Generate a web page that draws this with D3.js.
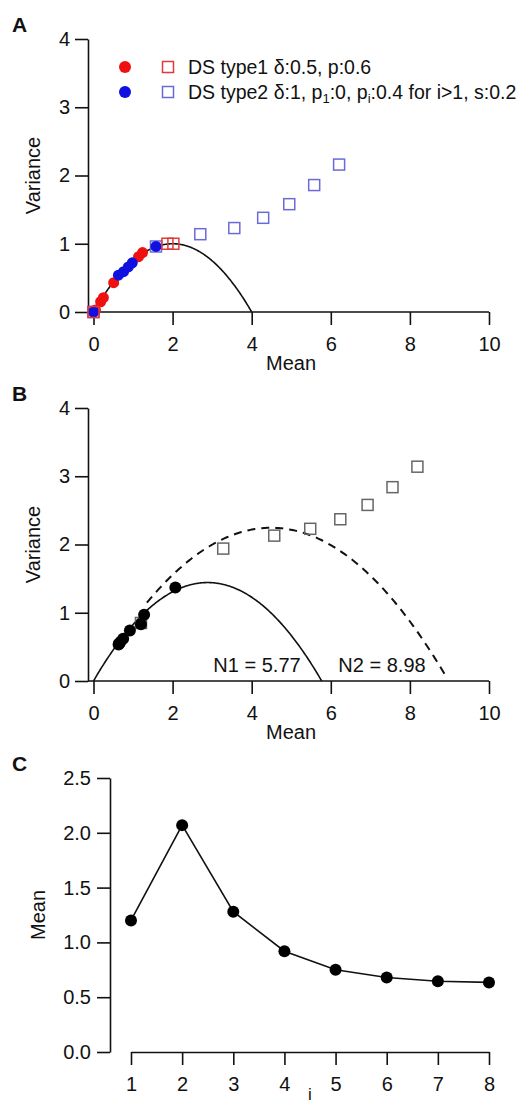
<!DOCTYPE html>
<html>
<head>
<meta charset="utf-8">
<script src="https://cdn.jsdelivr.net/npm/d3@7"></script>
<style>
  html, body { margin: 0; padding: 0; background: #fff; }
  svg { display: block; }
  text { font-family: "Liberation Sans", Arial, sans-serif; fill: #111; }
</style>
</head>
<body>
<svg id="fig" width="522" height="1107"></svg>
<script>
// ---- Panel A: mean vs variance for two DS types ----
const type1CircleMean = [0, 0.05, 0.18, 0.25, 0.51, 1.14, 1.24];
const type1CircleVar  = [0, 0.03, 0.15, 0.21, 0.43, 0.81, 0.87];
const type1SquareMean = [0, 1.87, 2.02];
const type1SquareVar  = [0, 1.00, 1.00];
const type2CircleMean = [0, 0.63, 0.76, 0.88, 0.98, 1.58];
const type2CircleVar  = [0, 0.54, 0.59, 0.66, 0.72, 0.96];
const type2SquareMean = [0, 1.58, 2.70, 3.56, 4.29, 4.95, 5.58, 6.21];
const type2SquareVar  = [0, 0.96, 1.14, 1.23, 1.38, 1.58, 1.86, 2.16];
const boundA = 4;            // parabola var = m(1 - m/N)
const legendLabels = ["DS type1 \u03b4:0.5, p:0.6", "DS type2"];

// ---- Panel B ----
const stepMean     = [1.2, 2.07, 1.28, 0.92, 0.75, 0.68, 0.645, 0.635];
const stepVar      = [0.83, 1.37, 0.97, 0.74, 0.62, 0.57, 0.545, 0.535];
const cumMean      = [1.2, 3.28, 4.57, 5.48, 6.24, 6.93, 7.56, 8.19];
const cumVar       = [0.85, 1.94, 2.13, 2.23, 2.37, 2.58, 2.84, 3.14];
const N1 = 5.77, N2 = 8.98;

// ---- Panel C ----
const stepIndex = [1, 2, 3, 4, 5, 6, 7, 8];

const xTicks = [0, 2, 4, 6, 8, 10];
const yTicksAB = [0, 1, 2, 3, 4];
const yTicksC = [0, 0.5, 1.0, 1.5, 2.0, 2.5];

const svg = d3.select("#fig");
const FS = 20;
const intFmt = d3.format("d");

function styleAxis(g) {
  g.selectAll("path.domain").attr("stroke", "#111").attr("stroke-width", 1.6);
  g.selectAll(".tick line").attr("stroke", "#111").attr("stroke-width", 1.6);
  g.selectAll(".tick text").attr("font-size", FS).attr("fill", "#111")
    .attr("font-family", "Liberation Sans, Arial, sans-serif");
}

function parabola(N, from, to) {
  return d3.range(0, 201).map(k => {
    const m = from + (to - from) * k / 200;
    return [m, Math.max(0, m * (1 - m / N))];
  });
}

function meanVarPanel(top, label) {
  const y0 = top + 273, y4 = top;
  const x = d3.scaleLinear().domain([0, 10]).range([93.5, 489]);
  const y = d3.scaleLinear().domain([0, 4]).range([y0, y4]);
  const g = svg.append("g");
  const ya = g.append("g").attr("transform", "translate(88,0)")
    .call(d3.axisLeft(y).tickValues(yTicksAB).tickFormat(intFmt)
      .tickSize(13).tickSizeOuter(0).tickPadding(5));
  styleAxis(ya);
  const xa = g.append("g").attr("transform", `translate(0,${y0})`)
    .call(d3.axisBottom(x).tickValues(xTicks).tickFormat(intFmt)
      .tickSize(13).tickSizeOuter(0).tickPadding(12));
  xa.select("path.domain").attr("d", `M88,0H${x(10)}`);
  styleAxis(xa);
  g.append("text").attr("x", 291).attr("y", y0 + 58).attr("text-anchor", "middle")
    .attr("font-size", FS).text("Mean");
  g.append("text").attr("transform", `translate(40,${(y0 + y4) / 2}) rotate(-90)`)
    .attr("text-anchor", "middle").attr("font-size", FS).text("Variance");
  g.append("text").attr("x", 12).attr("y", top - 7).attr("font-size", 21)
    .attr("font-weight", "bold").text(label);
  return { g, x, y };
}

const line = (x, y) => d3.line().x(d => x(d[0])).y(d => y(d[1]));

function squares(g, x, y, ms, vs, color, s) {
  g.append("g").selectAll("rect").data(ms.map((m, i) => [m, vs[i]])).join("rect")
    .attr("x", d => x(d[0]) - s / 2).attr("y", d => y(d[1]) - s / 2)
    .attr("width", s).attr("height", s)
    .attr("fill", "none").attr("stroke", color).attr("stroke-width", 1.5);
}
function circles(g, x, y, ms, vs, color, r) {
  g.append("g").selectAll("circle").data(ms.map((m, i) => [m, vs[i]])).join("circle")
    .attr("cx", d => x(d[0])).attr("cy", d => y(d[1])).attr("r", r).attr("fill", color);
}

// ===== Panel A =====
{
  const { g, x, y } = meanVarPanel(39, "A");
  g.append("path").datum(parabola(boundA, 0, boundA)).attr("d", line(x, y))
    .attr("fill", "none").attr("stroke", "#111").attr("stroke-width", 1.6);
  const red = "#f01010", blue = "#1010e0", redSq = "#e03a3a", blueSq = "#6a6ad8";
  squares(g, x, y, type2SquareMean, type2SquareVar, blueSq, 11);
  circles(g, x, y, type1CircleMean, type1CircleVar, red, 5.5);
  circles(g, x, y, type2CircleMean, type2CircleVar, blue, 5.5);
  squares(g, x, y, type1SquareMean, type1SquareVar, redSq, 11);

  // legend
  const lg = g.append("g");
  const LF = 19.5;
  const rows = [{ c: red, s: redSq, y: 67 }, { c: blue, s: blueSq, y: 92 }];
  rows.forEach(r => {
    lg.append("circle").attr("cx", 125).attr("cy", r.y).attr("r", 6).attr("fill", r.c);
    lg.append("rect").attr("x", 162.5).attr("y", r.y - 5.5).attr("width", 11).attr("height", 11)
      .attr("fill", "none").attr("stroke", r.s).attr("stroke-width", 1.5);
  });
  lg.append("text").attr("x", 188).attr("y", 67).attr("dy", "0.35em").attr("font-size", LF)
    .text(legendLabels[0]);
  const t2 = lg.append("text").attr("x", 188).attr("y", 92).attr("dy", "0.35em").attr("font-size", LF);
  t2.append("tspan").text(legendLabels[1] + " \u03b4:1, p");
  t2.append("tspan").attr("font-size", 13).attr("dy", "4").text("1");
  t2.append("tspan").attr("dy", "-4").text(":0, p");
  t2.append("tspan").attr("font-size", 13).attr("dy", "4").text("i");
  t2.append("tspan").attr("dy", "-4").text(":0.4 for i>1, s:0.2");
}

// ===== Panel B =====
{
  const { g, x, y } = meanVarPanel(408, "B");
  g.append("path").datum(parabola(N1, 0, N1)).attr("d", line(x, y))
    .attr("fill", "none").attr("stroke", "#111").attr("stroke-width", 1.6);
  g.append("path").datum(parabola(N2, 1.35, N2 - 0.05)).attr("d", line(x, y))
    .attr("fill", "none").attr("stroke", "#111").attr("stroke-width", 2)
    .attr("stroke-dasharray", "8,6");
  squares(g, x, y, cumMean, cumVar, "#666", 11);
  circles(g, x, y, stepMean, stepVar, "#000", 6);
  g.append("text").attr("x", 257).attr("y", 665).attr("dy", "0.35em").attr("text-anchor", "middle")
    .attr("font-size", FS).text(`N1 = ${N1}`);
  g.append("text").attr("x", 382).attr("y", 665).attr("dy", "0.35em").attr("text-anchor", "middle")
    .attr("font-size", FS).text(`N2 = ${N2}`);
}

// ===== Panel C =====
{
  const g = svg.append("g");
  const x = d3.scaleLinear().domain([1, 8]).range([131, 489]);
  const y = d3.scaleLinear().domain([0, 2.5]).range([1052, 778]);
  const ya = g.append("g").attr("transform", "translate(110,0)")
    .call(d3.axisLeft(y).tickValues(yTicksC).tickFormat(d3.format(".1f"))
      .tickSize(13).tickSizeOuter(0).tickPadding(6));
  styleAxis(ya);
  const xa = g.append("g").attr("transform", "translate(0,1052)")
    .call(d3.axisBottom(x).tickValues(stepIndex).tickFormat(intFmt)
      .tickSize(13).tickSizeOuter(0).tickPadding(12));
  styleAxis(xa);
  g.append("text").attr("x", 310).attr("y", 1100).attr("text-anchor", "middle")
    .attr("font-size", 17).text("i");
  g.append("text").attr("transform", `translate(45,${(1052 + 778) / 2}) rotate(-90)`)
    .attr("text-anchor", "middle").attr("font-size", FS).text("Mean");
  g.append("text").attr("x", 12).attr("y", 771).attr("font-size", 21)
    .attr("font-weight", "bold").text("C");
  const pts = stepIndex.map((k, i) => [k, stepMean[i]]);
  g.append("path").datum(pts).attr("d", line(x, y))
    .attr("fill", "none").attr("stroke", "#111").attr("stroke-width", 1.6);
  g.append("g").selectAll("circle").data(pts).join("circle")
    .attr("cx", d => x(d[0])).attr("cy", d => y(d[1])).attr("r", 6).attr("fill", "#000");
}
</script>
</body>
</html>
